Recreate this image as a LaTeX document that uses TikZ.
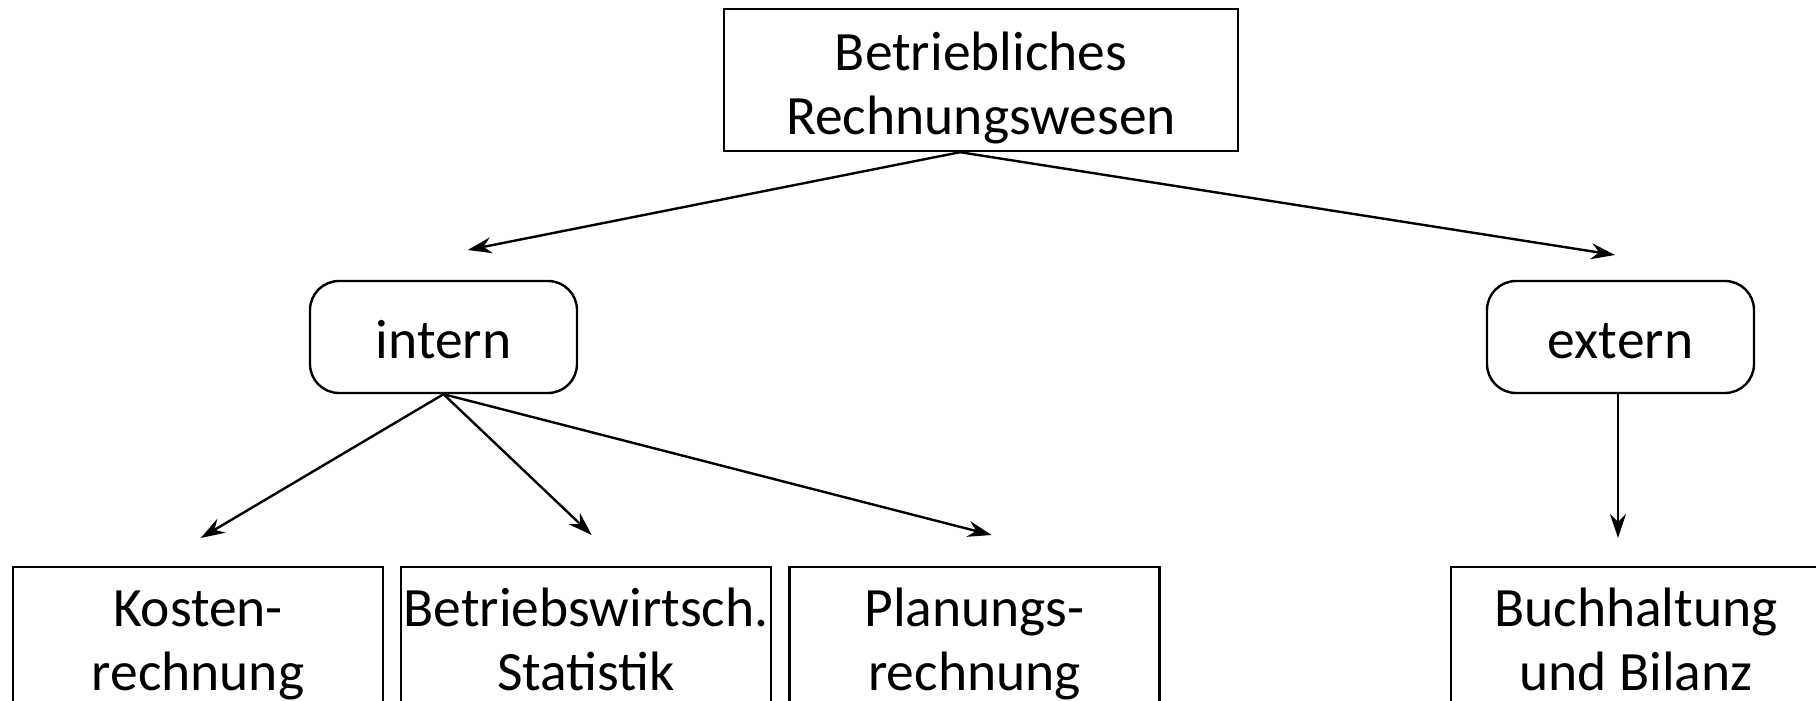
\documentclass[tikz,border=0pt]{standalone}
\usepackage{fontspec}
\setmainfont{Carlito}
\usetikzlibrary{arrows.meta}
\tikzset{
  box/.style={draw, line width=2.4pt, rectangle, align=center, inner sep=2pt,
    font=\fontsize{55.5}{64}\selectfont},
  rbox/.style={box, rounded corners=29pt, minimum width=267pt, minimum height=112pt,
    text height=42pt, text depth=0pt},
  leaf/.style={box, anchor=north, minimum width=370pt, minimum height=160pt,
    text height=100pt, text depth=14pt},
  conn/.style={line width=2.4pt, -{Stealth[length=24pt, width=16pt, inset=8pt]}}
}
\begin{document}
\begin{tikzpicture}[x=1pt, y=-1pt]
  \useasboundingbox (0,0) rectangle (1816,701);

  % root
  \node[box, minimum width=514pt, minimum height=142pt, text height=122pt, text depth=14pt]
    (top) at (981,80) {Betriebliches\\Rechnungswesen};

  % second level
  \node[rbox] (intern) at (443.5,337) {intern};
  \node[rbox] (extern) at (1620.5,337) {extern};

  % leaves (running off the lower edge)
  \node[leaf] (kosten) at (198,566) {Kosten-\\rechnung};
  \node[leaf] (statistik) at (586,566) {Betriebswirtsch.\\Statistik};
  \node[leaf] (planung) at (974.5,566) {Planungs-\\rechnung};
  \node[leaf] (buch) at (1636,566) {Buchhaltung\\und Bilanz};

  % arrow ends, left free above their targets
  \coordinate (toIntern) at (467.7,250);
  \coordinate (toExtern) at (1615,255);
  \coordinate (toKosten) at (200.7,538);
  \coordinate (toStatistik) at (591.7,535);
  \coordinate (toPlanung) at (991.7,535);
  \coordinate (toBuch) at (1618,538);

  \draw[conn] ([xshift=-21pt]top.south) -- (toIntern);
  \draw[conn] ([xshift=-21pt]top.south) -- (toExtern);
  \draw[conn] (intern.south) -- (toKosten);
  \draw[conn] (intern.south) -- (toStatistik);
  \draw[conn] (intern.south) -- (toPlanung);
  \draw[conn] ([xshift=-2.5pt]extern.south) -- (toBuch);
\end{tikzpicture}
\end{document}
